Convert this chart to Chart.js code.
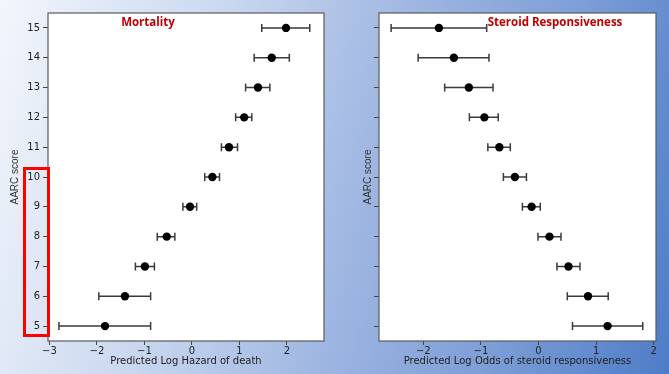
<!DOCTYPE html>
<html>
<head>
    <title>AARC score</title>
    <script src="https://cdn.jsdelivr.net/npm/chart.js"></script>
    <style>
        body { margin: 0; }
        .stage {
            position: relative;
            width: 669px;
            height: 374px;
            overflow: hidden;
            background: linear-gradient(105deg, #f3f6fc 0%, #c9d7ef 30%, #9db5e1 55%, #7f9fd7 75%, #4e7cc7 100%);
        }
        .stage canvas { position: absolute; top: 0; }
        .panel-title {
            position: absolute;
            top: 14px;
            font-family: "Open Sans", "Liberation Sans", sans-serif;
            font-weight: bold;
            font-size: 11.5px;
            color: #c00000;
            white-space: nowrap;
            transform: translateX(-50%);
        }
        .highlight {
            position: absolute;
            left: 23px;
            top: 167px;
            width: 27px;
            height: 170px;
            border: 3px solid #ff0000;
            box-sizing: border-box;
        }
    </style>
</head>
<body>
<div class="stage">
    <canvas id="mortChart" width="335" height="374" style="left:0"></canvas>
    <canvas id="steroidChart" width="334" height="374" style="left:335px"></canvas>
    <div class="panel-title" style="left:148px">Mortality</div>
    <div class="panel-title" style="left:555px">Steroid Responsiveness</div>
    <div class="highlight"></div>
</div>

<script>
    // AARC score rows
    const scores = [5, 6, 7, 8, 9, 10, 11, 12, 13, 14, 15];

    // predicted log hazard of death (estimate, lower, upper)
    const mortEst = [-1.83, -1.41, -0.99, -0.53, -0.04, 0.43, 0.78, 1.10, 1.39, 1.68, 1.98];
    const mortLo  = [-2.80, -1.96, -1.19, -0.73, -0.19, 0.27, 0.62, 0.92, 1.13, 1.31, 1.47];
    const mortHi  = [-0.87, -0.87, -0.79, -0.36, 0.10, 0.58, 0.96, 1.26, 1.64, 2.05, 2.48];

    // predicted log odds of steroid responsiveness
    const sterEst = [1.20, 0.86, 0.52, 0.19, -0.12, -0.41, -0.68, -0.94, -1.21, -1.47, -1.73];
    const sterLo  = [0.59, 0.50, 0.32, -0.01, -0.28, -0.61, -0.88, -1.20, -1.63, -2.09, -2.56];
    const sterHi  = [1.81, 1.21, 0.72, 0.39, 0.03, -0.21, -0.49, -0.70, -0.79, -0.86, -0.90];

    // x tick labels
    const mortTicks = [-3, -2, -1, 0, 1, 2];
    const sterTicks = [-2, -1, 0, 1, 2];

    const tickFont = { family: 'DejaVu Sans', size: 10 };

    // white plot area + frame
    const framePlugin = {
        id: 'frame',
        beforeDraw(chart) {
            const a = chart.chartArea, c = chart.ctx;
            c.save();
            c.fillStyle = '#ffffff';
            c.fillRect(a.left, a.top, a.right - a.left, a.bottom - a.top);
            c.restore();
        },
        afterDraw(chart) {
            const a = chart.chartArea, c = chart.ctx;
            c.save();
            c.strokeStyle = '#5a5a5a';
            c.lineWidth = 1.2;
            c.strokeRect(a.left, a.top, a.right - a.left, a.bottom - a.top);
            c.restore();
        }
    };

    // horizontal error bars with caps
    const errorBarPlugin = {
        id: 'errorBars',
        beforeDatasetsDraw(chart) {
            const c = chart.ctx;
            const xs = chart.scales.x, ys = chart.scales.y;
            chart.data.datasets.forEach(ds => {
                if (!ds.errLo) return;
                c.save();
                c.strokeStyle = '#3a3a3a';
                c.lineWidth = 1.5;
                ds.data.forEach((p, i) => {
                    const y = ys.getPixelForValue(p.y);
                    const x1 = xs.getPixelForValue(ds.errLo[i]);
                    const x2 = xs.getPixelForValue(ds.errHi[i]);
                    c.beginPath();
                    c.moveTo(x1, y); c.lineTo(x2, y);
                    c.moveTo(x1, y - 4); c.lineTo(x1, y + 4);
                    c.moveTo(x2, y - 4); c.lineTo(x2, y + 4);
                    c.stroke();
                });
                c.restore();
            });
        }
    };

    function makeChart(id, est, lo, hi, xTicks, xMin, xMax, xTitle, yWidth, showYLabels, yTitlePad, rightPad) {
        const ctx = document.getElementById(id).getContext('2d');
        return new Chart(ctx, {
            type: 'scatter',
            data: {
                datasets: [{
                    data: scores.map((s, i) => ({ x: est[i], y: s })),
                    errLo: lo,
                    errHi: hi,
                    backgroundColor: '#000000',
                    borderColor: '#000000',
                    borderWidth: 0,
                    pointRadius: 4.2,
                    pointHoverRadius: 4.2
                }]
            },
            options: {
                responsive: false,
                animation: false,
                events: [],
                layout: { padding: { top: 13, right: rightPad, bottom: 0, left: 0 } },
                plugins: {
                    legend: { display: false },
                    tooltip: { enabled: false }
                },
                scales: {
                    x: {
                        type: 'linear',
                        min: xMin,
                        max: xMax,
                        afterBuildTicks: s => { s.ticks = xTicks.map(v => ({ value: v })); },
                        afterFit: s => { s.height = 33; },
                        grid: { drawOnChartArea: false, drawTicks: true, tickLength: 4, tickColor: '#444' },
                        border: { display: false },
                        ticks: {
                            font: tickFont,
                            color: '#222',
                            padding: 0,
                            maxRotation: 0,
                            callback: v => (v < 0 ? '\u2212' + Math.abs(v) : String(v))
                        },
                        title: {
                            display: true,
                            text: xTitle,
                            font: { family: 'DejaVu Sans', size: 10 },
                            color: '#222',
                            padding: { top: 0, bottom: 7 }
                        }
                    },
                    y: {
                        type: 'linear',
                        min: 4.5,
                        max: 15.5,
                        afterBuildTicks: s => { s.ticks = scores.map(v => ({ value: v })); },
                        afterFit: s => { s.width = yWidth; },
                        grid: { drawOnChartArea: false, drawTicks: true, tickLength: 5, tickColor: '#444' },
                        border: { display: false },
                        ticks: {
                            font: tickFont,
                            color: '#222',
                            padding: 3,
                            callback: v => (showYLabels ? String(v) : '')
                        },
                        title: {
                            display: true,
                            text: 'AARC score',
                            font: { family: 'Liberation Sans Narrow, Liberation Sans', size: 10 },
                            color: '#333',
                            padding: { top: yTitlePad, bottom: 0 }
                        }
                    }
                }
            },
            plugins: [framePlugin, errorBarPlugin]
        });
    }

    makeChart('mortChart', mortEst, mortLo, mortHi, mortTicks, -3.03, 2.78,
        'Predicted Log Hazard of death', 48, true, 9, 11);
    makeChart('steroidChart', sterEst, sterLo, sterHi, sterTicks, -2.77, 2.04,
        'Predicted Log Odds of steroid responsiveness', 44, false, 27, 13);
</script>
</body>
</html>
